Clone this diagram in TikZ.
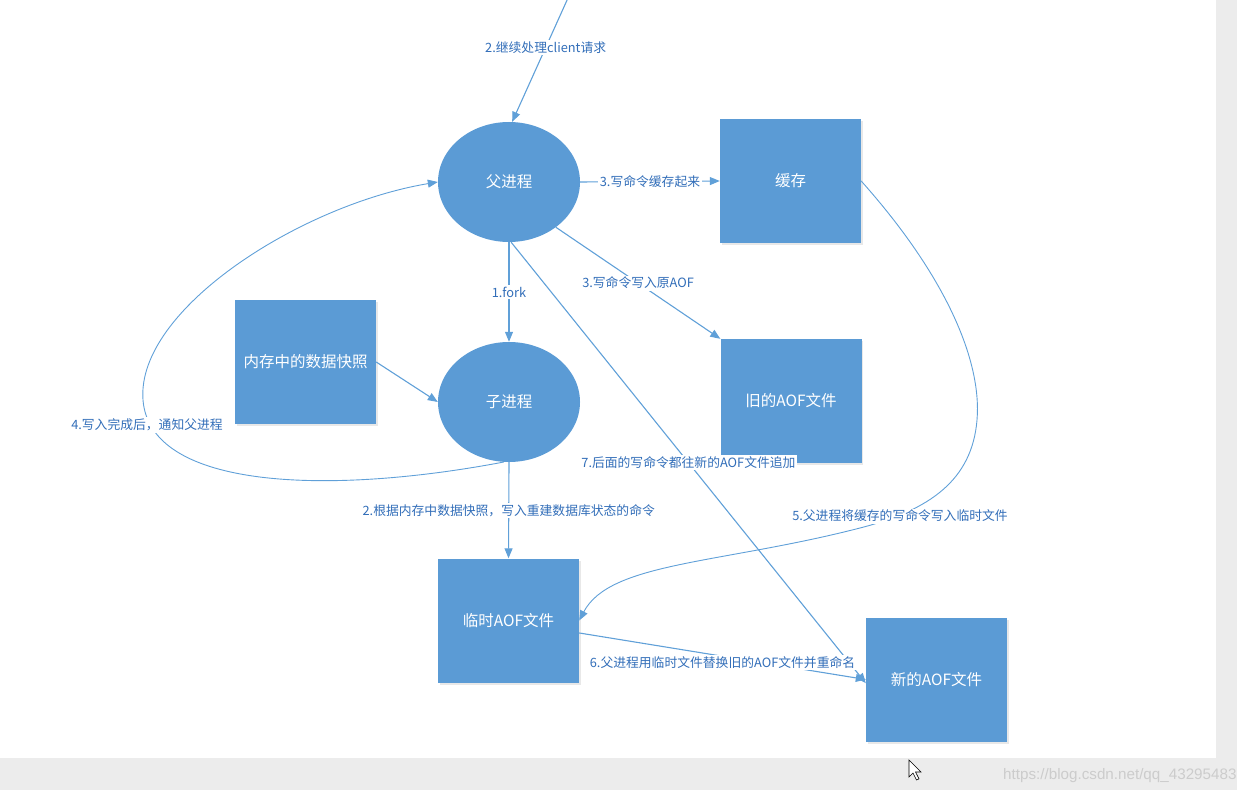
\documentclass[tikz,border=0pt]{standalone}
\usepackage{fontspec}
\newfontfamily\cjk{Noto Sans CJK SC}
\newfontfamily\wmfont{Liberation Sans}
\usetikzlibrary{arrows.meta,shapes.geometric,shadows}

\definecolor{boxblue}{RGB}{91,155,213}
\definecolor{lineblue}{RGB}{96,160,216}
\definecolor{textblue}{RGB}{50,110,185}
\definecolor{framegray}{RGB}{236,236,236}

\tikzset{
  proc/.style={ellipse, fill=boxblue, minimum width=142pt, minimum height=120pt,
    inner sep=0pt, text=white, font=\cjk\fontsize{15.5}{18}\selectfont},
  filebox/.style={rectangle, fill=boxblue, minimum width=141pt, minimum height=124pt,
    inner sep=0pt, text=white, font=\cjk\fontsize{15.5}{18}\selectfont,
    drop shadow={opacity=0.18, shadow xshift=1.5pt, shadow yshift=-2pt}},
  link/.style={draw=lineblue, line width=1.1pt, -{Triangle[length=10pt,width=8pt]}},
  curvelink/.style={draw=lineblue, line width=0.9pt, -{Triangle[length=10pt,width=8pt]}},
  lbl/.style={fill=white, inner sep=1.5pt, text=textblue, font=\cjk\fontsize{12.8}{14}\selectfont},
}

\begin{document}
\begin{tikzpicture}[x=1pt,y=1pt,yscale=-1]
\useasboundingbox (0,0) rectangle (1249,794);

% screenshot frame
\fill[framegray] (0,758) rectangle (1237,790);
\fill[framegray] (1216,0) rectangle (1237,790);

% processes
\node[proc] (fa) at (509,182) {父进程};
\node[proc] (ch) at (509,402) {子进程};

% files and buffers
\node[filebox] (hc) at (790.5,181) {缓存};
\node[filebox] (old) at (791,401) {旧的AOF文件};
\node[filebox] (snap) at (305.5,362) {内存中的数据快照};
\node[filebox] (tmp) at (508.5,620.5) {临时AOF文件};
\node[filebox] (new) at (936.5,679.5) {新的AOF文件};

\coordinate (cl) at (568,-2);

% straight connectors
\draw[link] (cl) -- node[lbl,pos=0.4] {2.继续处理client请求} (fa.87);
\draw[link] (fa.east) -- node[lbl] {3.写命令缓存起来} (hc.west);
\draw[link] (fa.-44) -- node[lbl,pos=0.5] {3.写命令写入原AOF} (old.north west);
\draw[link] (fa.south) -- node[lbl] {1.fork} (ch.north);
\draw[link] (snap.east) -- (ch.west);
\draw[link] (ch.south) -- node[lbl] {2.根据内存中数据快照，写入重建数据库状态的命令} (tmp.north);
\draw[link] (fa.-88) -- node[lbl,pos=0.5] {7.后面的写命令都往新的AOF文件追加} (new.183);
\draw[link] (tmp.-10) -- node[lbl,pos=0.5,yshift=-6pt] {6.父进程用临时文件替换旧的AOF文件并重命名} (new.west);

% curved connectors
\draw[curvelink] (ch.265) .. controls (330,495) and (150,490) .. (143,400)
  .. controls (136,310) and (300,205) .. (fa.west);
\node[lbl] (l4) at (147,425) {4.写入完成后，通知父进程};
\draw[curvelink] (hc.east) .. controls (945,275) and (982,360) .. (977,420)
  .. controls (972,480) and (930,510) .. (860,528)
  .. controls (720,564) and (610,562) .. (tmp.east);
\node[lbl] (l5) at (900,516) {5.父进程将缓存的写命令写入临时文件};

% watermark and pointer
\node[anchor=east, text=black!20, font=\wmfont\fontsize{15.2}{16}\selectfont] (wm) at (1240,776) {https://blog.csdn.net/qq\_43295483};
\draw[fill=white, line width=0.6pt] (909,760) -- ++(0,17) -- ++(4,-4) -- ++(3.5,7)
  -- ++(2.5,-1.2) -- ++(-3.5,-6.8) -- ++(5.5,0) -- cycle;

\end{tikzpicture}
\end{document}
